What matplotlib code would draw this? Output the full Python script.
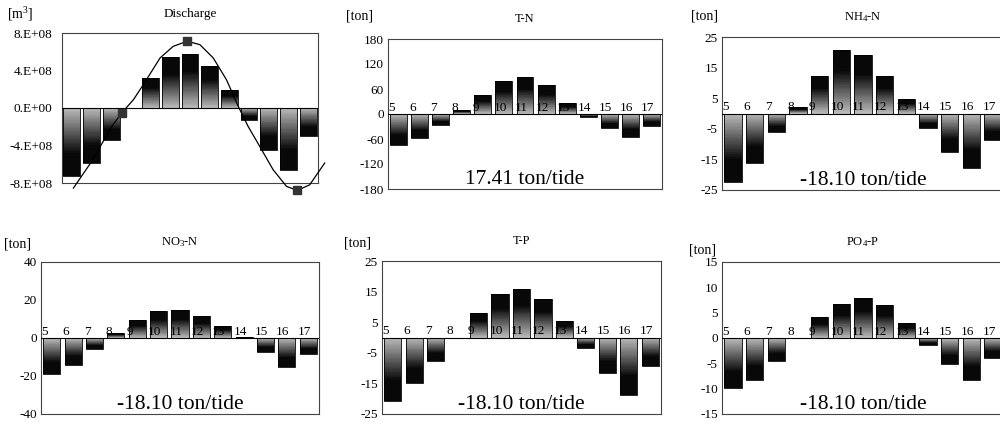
import numpy as np
import matplotlib.pyplot as plt

plt.rcParams['font.family'] = ['Liberation Serif', 'DejaVu Serif']
plt.rcParams['mathtext.default'] = 'regular'

HOURS = [5, 6, 7, 8, 9, 10, 11, 12, 13, 14, 15, 16, 17]

# discharge per hour [m3]
DISCHARGE = [-7.2e8, -5.9e8, -3.4e8, 0.0, 3.2e8, 5.4e8, 5.8e8, 4.5e8, 1.9e8,
             -1.3e8, -4.5e8, -6.6e8, -3.0e8]
# tidal curve: (slot position, m3)
CURVE_X = [0.08, 1.01, 2.03, 2.53, 3.13, 3.63, 4.48, 5.15, 5.86, 6.50, 7.18,
           7.85, 8.45, 8.95, 9.54, 10.22, 10.90, 11.45, 12.08, 12.84]
CURVE_Y = [-8.54e8, -5.69e8, -1.96e8, -0.53e8, 0.89e8, 2.49e8, 5.34e8, 6.58e8,
           7.12e8, 6.76e8, 5.34e8, 3.02e8, 0.18e8, -1.96e8, -4.09e8, -6.58e8,
           -8.36e8, -8.79e8, -8.19e8, -5.87e8]
MARK_X = [2.53, 5.86, 11.45]
MARK_Y = [-0.53e8, 7.12e8, -8.79e8]

# loads per hour [ton]
TN = [-75, -58, -27, 9, 46, 80, 89, 69, 26, -8, -34, -54, -28]
NH4 = [-22.3, -16.1, -6.2, 2.0, 12.3, 20.9, 19.0, 12.3, 4.8, -4.9, -12.5, -17.7, -8.7]
NO3 = [-19.0, -14.1, -5.8, 2.6, 9.7, 14.1, 14.6, 11.4, 6.5, 0.4, -7.2, -15.5, -8.3]
TP = [-20.9, -15.0, -7.6, 0.0, 8.1, 14.1, 15.7, 12.6, 5.5, -3.4, -11.7, -18.8, -9.2]
PO4 = [-9.8, -8.2, -4.5, 0.0, 4.1, 6.7, 7.9, 6.6, 2.9, -1.4, -5.1, -8.3, -3.9]

TOTALS = {"T-N": "17.41 ton/tide", "NH4": "-18.10 ton/tide", "NO3": "-18.10 ton/tide",
          "TP": "-18.10 ton/tide", "PO4": "-18.10 ton/tide"}

NSLICE = 50


def px(x, y):
    return x / 1000, 1 - y / 425


def ax_at(fig, left, top, right, bottom):
    l, t = px(left, top)
    r, b = px(right, bottom)
    return fig.add_axes([l, b, r - l, t - b])


def gradient_bars(ax, values, width):
    # shaded from light grey at the zero line to black at the bar end
    x = np.arange(len(values))
    vals = np.asarray(values, dtype=float)
    for k in range(NSLICE):
        t = (k + 0.5) / NSLICE
        g = max(0.74 * (1 - t / 0.7), 0.03)
        ax.bar(x, vals / NSLICE * 1.02, bottom=vals * k / NSLICE, width=width,
               color=str(g), linewidth=0, zorder=2)
    ax.bar(x, vals, width=width, color='none', edgecolor='black', linewidth=0.6, zorder=3)


def style_axes(ax, ylim, ticks, ticklabels, pad=3):
    ax.set_xlim(-0.5, len(HOURS) - 0.5)
    ax.set_ylim(*ylim)
    ax.set_xticks([])
    ax.set_yticks(ticks)
    ax.set_yticklabels(ticklabels)
    ax.tick_params(axis='y', length=0, pad=pad, labelsize=9.5)
    ax.axhline(0, color='black', lw=0.8, zorder=4)
    for s in ax.spines.values():
        s.set_color('#444444')
        s.set_linewidth(0.8)


def load_panel(ax, values, ylim, ticks, title, total):
    gradient_bars(ax, values, 0.8)
    style_axes(ax, ylim, ticks, [f"{v:g}" for v in ticks])
    for i, h in enumerate(HOURS):
        ax.text(i - 0.5, 0, str(h), ha='left', va='bottom', fontsize=9.5, zorder=5)
    ax.text(0.5, 1.13, title, transform=ax.transAxes, ha='center', va='center', fontsize=9)
    ax.text(0.5, 0.03, total, transform=ax.transAxes, ha='center', va='baseline', fontsize=15.5)


fig = plt.figure(figsize=(10, 4.25), dpi=100)

# Discharge panel
ax = ax_at(fig, 62, 33, 318, 183)
gradient_bars(ax, DISCHARGE, 0.85)
style_axes(ax, (-8e8, 8e8), [-8e8, -4e8, 0, 4e8, 8e8],
           ["-8.E+08", "-4.E+08", "0.E+00", "4.E+08", "8.E+08"], pad=7)
ax.plot(CURVE_X, CURVE_Y, color='black', lw=0.9, zorder=6, clip_on=False)
ax.plot(MARK_X, MARK_Y, 's', color='#333333', ms=6, zorder=7, clip_on=False)
ax.text(0.5, 1.13, "Discharge", transform=ax.transAxes, ha='center', va='center', fontsize=9.5)
fig.text(*px(7, 14), "[m$^3$]", ha='left', va='center', fontsize=10)

ax = ax_at(fig, 388, 39, 662, 189)
load_panel(ax, TN, (-180, 180), [-180, -120, -60, 0, 60, 120, 180], "T-N", TOTALS["T-N"])
fig.text(*px(346, 16), "[ton]", ha='left', va='center', fontsize=10)

ax = ax_at(fig, 722, 37, 1004, 190)
load_panel(ax, NH4, (-25, 25), [-25, -15, -5, 5, 15, 25], "NH$_4$-N", TOTALS["NH4"])
fig.text(*px(691, 16), "[ton]", ha='left', va='center', fontsize=10)

ax = ax_at(fig, 41, 262, 319, 414)
load_panel(ax, NO3, (-40, 40), [-40, -20, 0, 20, 40], "NO$_3$-N", TOTALS["NO3"])
fig.text(*px(4, 244), "[ton]", ha='left', va='center', fontsize=10)

ax = ax_at(fig, 382, 261, 661, 414)
load_panel(ax, TP, (-25, 25), [-25, -15, -5, 5, 15, 25], "T-P", TOTALS["TP"])
fig.text(*px(344, 243), "[ton]", ha='left', va='center', fontsize=10)

ax = ax_at(fig, 722, 262, 1004, 414)
load_panel(ax, PO4, (-15, 15), [-15, -10, -5, 0, 5, 10, 15], "PO$_4$-P", TOTALS["PO4"])
fig.text(*px(689, 250), "[ton]", ha='left', va='center', fontsize=10)

fig.savefig("out.png", dpi=100)
